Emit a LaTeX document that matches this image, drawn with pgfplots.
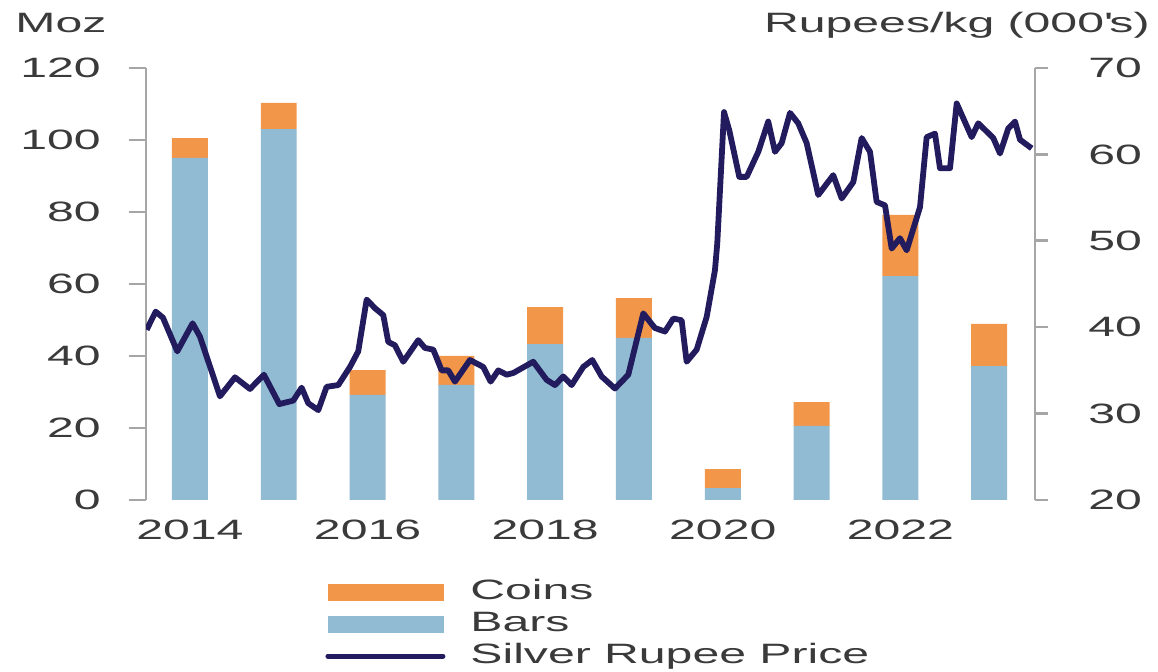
\documentclass[border=0pt]{standalone}
\usepackage{pgfplots}
\pgfplotsset{compat=1.18}
\usepackage{fontspec}
\setmainfont[FakeStretch=1.72]{Liberation Sans}
\definecolor{coinsC}{HTML}{F2964A}
\definecolor{barsC}{HTML}{90BBD2}
\definecolor{lineC}{HTML}{221C5E}
\definecolor{axisC}{HTML}{A6A6A6}
\definecolor{textC}{HTML}{3A3A3A}
\begin{document}
\begin{tikzpicture}[font=\fontsize{14pt}{16pt}\selectfont, text=textC]
\path[use as bounding box] (0,0) rectangle (579pt,336pt);
\begin{axis}[
  at={(73pt,86pt)}, anchor=south west,
  scale only axis, width=444.5pt, height=216pt,
  xmin=2013.505, xmax=2023.516,
  ymin=0, ymax=120, ytick={0,20,...,120},
  ybar stacked, bar width=0.405,
  axis y line*=left, axis x line*=bottom,
  x axis line style={draw=none},
  y axis line style={draw=axisC, line width=1.3pt},
  xtick={2014,2016,2018,2020,2022},
  xticklabels={2014,2016,2018,2020,2022},
  xtick style={draw=none},
  ytick style={draw=axisC, line width=1.3pt},
  tick align=outside, major tick length=8.5pt,
  yticklabel style={anchor=east, inner sep=0pt, xshift=-14pt},
  xticklabel style={anchor=north, inner sep=0pt, yshift=-1.5pt},
  tick label style={text=textC},
  /pgf/number format/assume math mode=true,
]
\addplot[fill=barsC, draw=none] coordinates {
 (2014,95) (2015,103) (2016,29.2) (2017,32) (2018,43.3)
 (2019,45) (2020,3.3) (2021,20.6) (2022,62.2) (2023,37.2)};
\addplot[fill=coinsC, draw=none] coordinates {
 (2014,5.5) (2015,7.3) (2016,6.9) (2017,8) (2018,10.3)
 (2019,11.1) (2020,5.3) (2021,6.6) (2022,17) (2023,11.7)};
\end{axis}
\begin{axis}[
  at={(73pt,86pt)}, anchor=south west,
  scale only axis, width=444.5pt, height=216pt,
  xmin=2013.505, xmax=2023.516,
  ymin=20, ymax=70, ytick={20,30,...,70},
  axis y line*=right, axis x line=none,
  y axis line style={draw=axisC, line width=1.3pt},
  ytick style={draw=axisC, line width=1.3pt},
  tick align=outside, major tick length=6.5pt,
  yticklabel style={anchor=west, inner sep=0pt, xshift=20pt},
  tick label style={text=textC},
  /pgf/number format/assume math mode=true,
  legend style={at={(0.2014,-0.18)}, anchor=north west, draw=none, fill=none,
    inner sep=0pt, row sep=2pt, column sep=12.5pt,
    nodes={inner sep=0pt, text height=10.5pt, text depth=3.5pt, text=textC}},
  legend cell align=left,
]
\addlegendimage{legend image code/.code={\fill[coinsC] (0pt,-4pt) rectangle (57.5pt,4pt);}}
\addlegendentry{Coins}
\addlegendimage{legend image code/.code={\fill[barsC] (0pt,-4pt) rectangle (57.5pt,4pt);}}
\addlegendentry{Bars}
\addplot[lineC, line width=2.9pt, line join=round,
  legend image code/.code={\draw[lineC, line width=2.5pt, line cap=round] (0pt,0pt) -- (57.5pt,0pt);}]
 coordinates {
 (2013.512,39.7) (2013.614,41.8) (2013.696,41.1) (2013.857,37.2) (2014.030,40.45)
 (2014.113,38.9) (2014.338,32.0) (2014.507,34.2) (2014.676,32.85) (2014.833,34.5)
 (2015.006,31.1) (2015.163,31.5) (2015.258,33.0) (2015.332,31.2) (2015.445,30.4)
 (2015.539,33.1) (2015.670,33.3) (2015.802,35.4) (2015.895,37.2) (2015.990,43.2)
 (2016.083,42.2) (2016.177,41.4) (2016.233,38.3) (2016.309,37.9) (2016.402,36.0)
 (2016.571,38.5) (2016.646,37.6) (2016.740,37.4) (2016.834,35.0) (2016.909,35.0)
 (2016.984,33.7) (2017.153,36.2) (2017.303,35.4) (2017.386,33.7) (2017.472,35.0)
 (2017.566,34.5) (2017.641,34.7) (2017.866,36.0) (2018.017,33.9) (2018.110,33.3)
 (2018.204,34.3) (2018.298,33.3) (2018.429,35.4) (2018.530,36.2) (2018.636,34.3)
 (2018.786,32.9) (2018.936,34.5) (2019.105,41.6) (2019.236,39.9) (2019.349,39.5)
 (2019.443,41.0) (2019.537,40.8) (2019.593,36.0) (2019.706,37.4) (2019.819,41.2)
 (2019.912,46.6) (2019.938,49.7) (2020.014,64.9) (2020.073,62.8) (2020.186,57.4)
 (2020.269,57.4) (2020.400,60.3) (2020.512,63.8) (2020.588,60.3) (2020.663,61.3)
 (2020.757,64.8) (2020.850,63.6) (2020.945,61.3) (2021.075,55.3) (2021.244,57.6)
 (2021.339,54.9) (2021.470,56.8) (2021.564,61.9) (2021.658,60.3) (2021.733,54.5)
 (2021.827,54.1) (2021.902,49.1) (2021.995,50.3) (2022.071,48.9) (2022.221,53.9)
 (2022.296,62.0) (2022.390,62.4) (2022.446,58.4) (2022.559,58.4) (2022.634,65.9)
 (2022.803,62.0) (2022.877,63.6) (2023.046,61.9) (2023.122,60.1) (2023.215,63.0)
 (2023.291,63.8) (2023.347,61.7) (2023.479,60.7)};
\addlegendentry{Silver Rupee Price}
\end{axis}
\node[anchor=base west, inner sep=0pt] at (7.5pt,319.5pt) {Moz};
\node[anchor=base east, inner sep=0pt] at (575pt,319.5pt) {Rupees/kg (000\textquotesingle s)};
\end{tikzpicture}
\end{document}
